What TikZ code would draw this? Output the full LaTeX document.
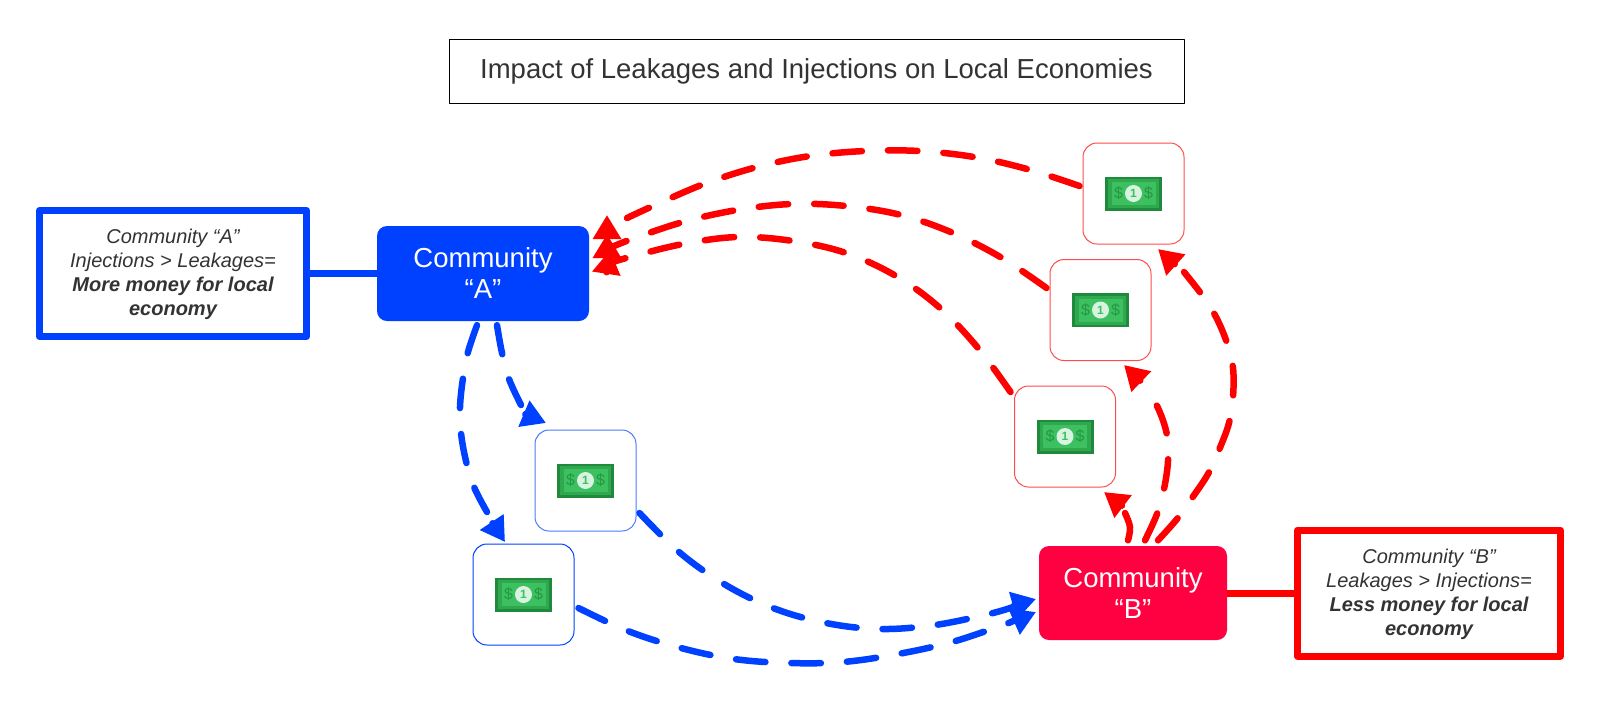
\documentclass[tikz,border=0pt]{standalone}
\usepackage{fontspec}
\setmainfont{Liberation Sans}
\usepackage{xcolor}
\usetikzlibrary{arrows.meta}
\definecolor{blueflow}{HTML}{0040FF}
\definecolor{redflow}{HTML}{FF0000}
\definecolor{crimson}{HTML}{FF0040}
\definecolor{ink}{HTML}{333333}
\definecolor{billdark}{HTML}{1F8A3C}
\definecolor{billmid}{HTML}{2FA84F}
\definecolor{billlight}{HTML}{3CC060}
\tikzset{
  every picture/.style={line join=round},
  community/.style={rounded corners=10pt,text=white,align=center,font=\fontsize{27.5}{31}\selectfont,inner sep=0pt},
  notebox/.style={draw,line width=7pt,fill=white,text=ink,align=center,font=\fontsize{20}{24}\selectfont\itshape,inner sep=0pt},
  billbox/.style={draw,line width=1pt,rounded corners=14pt,minimum size=101pt,inner sep=0pt},
  flow/.style={line width=6.5pt,line cap=round,dash pattern=on 29.5pt off 26pt,-{Triangle[length=24pt,width=27pt]}},
  moneybill/.pic={
    \fill[billdark] (-28.5,-17) rectangle (28.5,17);
    \fill[billmid] (-25.5,-14.5) rectangle (25.5,14.5);
    \fill[billlight] (-22,-11.5) rectangle (22,11.5);
    \fill[white!80!billlight] (0,0) circle[radius=8.5];
    \node[text=billlight,font=\fontsize{12}{12}\selectfont\bfseries] (-one) at (0,0) {1};
    \node[text=billdark!75!billlight,font=\fontsize{16}{16}\selectfont] (-left) at (-15,0) {\$};
    \node[text=billdark!75!billlight,font=\fontsize{16}{16}\selectfont] (-right) at (15,0) {\$};
  },
}
\begin{document}
\begin{tikzpicture}[x=1pt,y=-1pt]
\useasboundingbox (0,0) rectangle (1600,713);
\node[draw,line width=0.8pt,minimum width=735pt,minimum height=64pt,text=ink,font=\fontsize{27.5}{32}\selectfont] (title) at (816.5,71) {Impact of Leakages and Injections on Local Economies};
% communities and their notes
\node[community,fill=blueflow,minimum width=212pt,minimum height=95pt] (comA) at (483,273.5) {Community\\“A”};
\node[community,fill=crimson,minimum width=188pt,minimum height=94pt] (comB) at (1133,593) {Community\\“B”};
\node[notebox,draw=blueflow,minimum width=267pt,minimum height=126pt] (noteA) at (173,273.5) {\rule{0pt}{17pt}Community “A”\\Injections > Leakages=\\\textbf{More money for local}\\\textbf{economy}};
\node[notebox,draw=redflow,minimum width=263pt,minimum height=126pt] (noteB) at (1429,593) {\rule{0pt}{18pt}Community “B”\\Leakages > Injections=\\\textbf{Less money for local}\\\textbf{economy}};
\draw[blueflow,line width=7pt] (noteA) -- (comA);
\draw[redflow,line width=7pt] (comB) -- (noteB);
% money boxes
\node[billbox,draw=blueflow!70!white] (blueA) at (585.5,480.5) {};
\node[billbox,draw=blueflow] (blueB) at (523.5,594.5) {};
\node[billbox,draw=redflow!70!white] (redA) at (1065,436.5) {};
\node[billbox,draw=redflow!70!white] (redB) at (1100.5,310) {};
\node[billbox,draw=redflow!70!white] (redC) at (1133.5,193.5) {};
\foreach \n in {blueA,blueB,redA,redB,redC}
  \pic (bill\n) at (\n) {moneybill};
% arrow tips end here
\coordinate (tipA1) at (607,215);
\coordinate (tipA2) at (607,234);
\coordinate (tipA3) at (610,250);
\coordinate (tipB1) at (1036,599);
\coordinate (tipB2) at (1036,612);
% blue flows
\draw[flow,blueflow] plot[smooth,tension=0.6] coordinates {([shift={(-6pt,-4pt)}]comA.south) (468,352) (463,378) (460,407) (461,433) (466,461) (474,487) (487,512)} (497,530) -- (505,542);
\draw[flow,blueflow] plot[smooth,tension=0.6] coordinates {([shift={(14pt,-4pt)}]comA.south) (502,353) (509,379) (521,405)} (533,417.5) -- (546,423);
\draw[flow,blueflow] plot[smooth,tension=0.6] coordinates {([shift={(3pt,-32.5pt)}]blueA.east) (679,552) (724,584) (773,608) (826,623) (880,629) (935,625) (989,614) (1013,607)} (1022,603) -- (tipB1);
\draw[flow,blueflow] plot[smooth,tension=0.6] coordinates {([shift={(4pt,-13.5pt)}]blueB.east) (628,631) (681,648) (734,659) (789,663) (843,662) (898,654) (952,642) (1003,625) (1013,621)} (1023,617.7) -- (tipB2);
% red flows
\draw[flow,redflow] plot[smooth,tension=0.6] coordinates {([shift={(-5pt,5.5pt)}]comB.north) (1130,527) (1125,513)} (1115,500.4) -- (1104,492);
\draw[flow,redflow] plot[smooth,tension=0.6] coordinates {([shift={(12pt,5.5pt)}]comB.north) (1157,514) (1164,489) (1168,461) (1167,435) (1158,408) (1144,385)} (1134,374.6) -- (1124,365);
\draw[flow,redflow] plot[smooth,tension=0.6] coordinates {([shift={(25pt,5.5pt)}]comB.north) (1177,519) (1192,498) (1208,474) (1219,450) (1229,423) (1233,397) (1233,368) (1227,343) (1216,317) (1202,295) (1184,272)} (1168,258) -- (1158,249);
\draw[flow,redflow] plot[smooth,tension=0.6] coordinates {([shift={(-3pt,7.5pt)}]redC.west) (1027,169) (974,157) (919,151) (865,151) (810,156) (757,167) (704,184) (653,206) (627,218)} (607,229) -- (tipA1);
\draw[flow,redflow] plot[smooth,tension=0.6] coordinates {([shift={(-3pt,22pt)}]redB.west) (1002,258) (953,233) (901,215) (846,206) (792,204) (737,210) (683,222) (632,239) (612,247)} (607,247) -- (tipA2);
\draw[flow,redflow] plot[smooth,tension=0.6] coordinates {([shift={(-3.5pt,44.5pt)}]redA.west) (978,348) (940,308) (896,276) (846,253) (793,241) (738,237) (683,244) (630,257) (610,263)} (608,263) -- (tipA3);
\end{tikzpicture}
\end{document}
